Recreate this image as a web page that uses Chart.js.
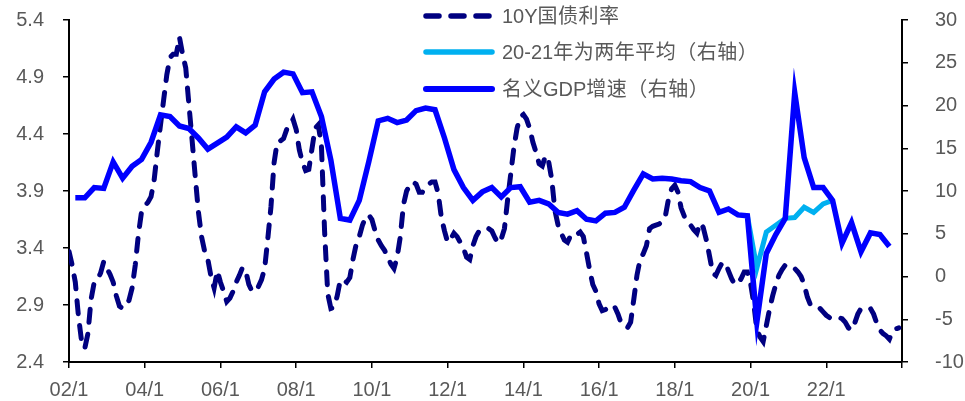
<!DOCTYPE html>
<html>
<head>
<meta charset="utf-8">
<script src="https://cdn.jsdelivr.net/npm/chart.js@4.4.0/dist/chart.umd.min.js"></script>
<style>
  html, body { margin: 0; padding: 0; background: #fff; }
  #wrap { width: 965px; height: 401px; }
</style>
</head>
<body>
<div id="wrap"><canvas id="chart" width="965" height="401"></canvas></div>
<script>
// x axis runs in months from 2002-01, labelled every two years
const xLabels = ['02/1', '04/1', '06/1', '08/1', '10/1', '12/1', '14/1', '16/1', '18/1', '20/1', '22/1'];
const leftTicks = [2.4, 2.9, 3.4, 3.9, 4.4, 4.9, 5.4];
const rightTicks = [-10, -5, 0, 5, 10, 15, 20, 25, 30];

// 10Y government bond yield, monthly 2002-01 .. 2023-12 (%)
const yield10y = [
  3.37, 3.25, 3.10, 2.80, 2.58, 2.52, 2.65, 2.95, 3.10, 3.12, 3.18, 3.28,
  3.22, 3.17, 3.10, 2.98, 2.89, 2.87, 2.90, 2.94, 3.05, 3.25, 3.52, 3.72,
  3.77, 3.80, 3.85, 4.00, 4.25, 4.48, 4.70, 4.92, 5.07, 5.10, 5.10, 5.25,
  5.10, 4.98, 4.66, 4.35, 4.03, 3.72, 3.50, 3.37, 3.30, 3.15, 3.05, 3.20,
  3.10, 3.02, 2.93, 2.96, 3.02, 3.10, 3.16, 3.23, 3.20, 3.08, 3.02, 3.02,
  3.06, 3.12, 3.22, 3.48, 3.76, 4.15, 4.33, 4.34, 4.36, 4.44, 4.48, 4.53,
  4.44, 4.26, 4.15, 4.08, 4.09, 4.27, 4.45, 4.48, 4.30, 3.55, 3.00, 2.87,
  2.88, 2.98, 3.12, 3.12, 3.10, 3.14, 3.30, 3.43, 3.50, 3.60, 3.67, 3.69,
  3.65, 3.55, 3.47, 3.42, 3.38, 3.32, 3.26, 3.22, 3.32, 3.50, 3.78, 3.90,
  3.95, 3.98, 3.96, 3.89, 3.89, 3.93, 3.96, 3.98, 3.98, 3.88, 3.67, 3.55,
  3.45, 3.48, 3.53, 3.50, 3.45, 3.40, 3.32, 3.30, 3.42, 3.50, 3.55, 3.57,
  3.57, 3.57, 3.55, 3.49, 3.44, 3.48, 3.57, 3.82, 4.05, 4.28, 4.45, 4.55,
  4.57, 4.53, 4.45, 4.33, 4.24, 4.14, 4.12, 4.21, 4.16, 4.00, 3.73, 3.60,
  3.53, 3.47, 3.45, 3.51, 3.53, 3.52, 3.54, 3.50, 3.36, 3.21, 3.08, 3.02,
  2.91, 2.85, 2.86, 2.88, 2.90, 2.88, 2.82, 2.74, 2.72, 2.70, 2.75, 2.95,
  3.16, 3.30, 3.35, 3.42, 3.57, 3.59, 3.60, 3.61, 3.63, 3.68, 3.83, 3.92,
  3.95, 3.89, 3.75, 3.68, 3.64, 3.60, 3.56, 3.53, 3.62, 3.58, 3.47, 3.33,
  3.18, 3.16, 3.22, 3.27, 3.27, 3.20, 3.13, 3.08, 3.09, 3.13, 3.19, 3.19,
  3.09, 2.92, 2.68, 2.62, 2.58, 2.72, 2.86, 2.98, 3.08, 3.16, 3.21, 3.25,
  3.23, 3.22, 3.22, 3.19, 3.15, 3.08, 2.97, 2.90, 2.90, 2.89, 2.87, 2.84,
  2.81, 2.79, 2.79, 2.80, 2.79, 2.78, 2.75, 2.70, 2.68, 2.74, 2.82, 2.87,
  2.87, 2.87, 2.87, 2.82, 2.74, 2.68, 2.65, 2.63, 2.60, 2.67, 2.69, 2.70
];

// nominal GDP growth, quarterly 2002Q1 .. 2023Q3 (%, right axis)
const gdpGrowth = [
  9.2, 9.2, 10.4, 10.3,
  13.4, 11.5, 12.9, 13.7,
  15.7, 18.9, 18.7, 17.6,
  17.3, 16.2, 14.9, 15.6,
  16.3, 17.5, 16.8, 17.7,
  21.6, 23.1, 23.9, 23.7,
  21.5, 21.6, 18.7, 13.6,
  6.8, 6.6, 8.9, 13.4,
  18.2, 18.5, 18.0, 18.3,
  19.4, 19.7, 19.5, 16.2,
  12.5, 10.4, 8.9, 9.9,
  10.4, 9.3, 10.4, 10.5,
  8.7, 8.9, 8.5, 7.5,
  7.3, 7.7, 6.7, 6.5,
  7.4, 7.5, 8.1, 10.1,
  12.0, 11.4, 11.5, 11.4,
  11.2, 11.1, 10.4, 10.0,
  7.5, 7.9, 7.2, 7.1,
  -5.3, 2.7, 4.9, 6.8,
  21.5, 13.9, 10.4, 10.4,
  8.9, 3.9, 6.3, 2.9,
  5.1, 4.9, 3.5
];

// two-year average growth for 2020-21, 2019Q4 .. 2022Q1
const avgGrowth = [7.1, 1.0, 5.2, 6.0, 6.8, 6.9, 8.1, 7.5, 8.5, 8.9];

const gdpStartMonth = 2;    // 2002-03
const avgStartMonth = 215;  // 2019-12

const yieldPts = yield10y.map((v, i) => ({ x: i, y: v }));
const gdpPts = gdpGrowth.map((v, i) => ({ x: gdpStartMonth + 3 * i, y: v }));
const avgPts = avgGrowth.map((v, i) => ({ x: avgStartMonth + 3 * i, y: v }));

const textColor = '#595959';
const latinFont = '"Liberation Sans", Arial, "Noto Sans CJK SC", sans-serif';

const legendItems = [
  { text: '10Y国债利率', color: '#000080', dash: [13, 12], width: 5.5, y: 16 },
  { text: '20-21年为两年平均（右轴）', color: '#00B0F0', dash: [], width: 5.5, y: 52 },
  { text: '名义GDP增速（右轴）', color: '#0000FF', dash: [], width: 6, y: 89 }
];

// legend sits inside the plot, top centre
const innerLegend = {
  id: 'innerLegend',
  afterDraw(chart) {
    const ctx = chart.ctx;
    ctx.save();
    legendItems.forEach(item => {
      ctx.beginPath();
      ctx.setLineDash(item.dash);
      ctx.lineCap = 'round';
      ctx.lineWidth = item.width;
      ctx.strokeStyle = item.color;
      ctx.moveTo(426, item.y);
      ctx.lineTo(492, item.y);
      ctx.stroke();
      ctx.setLineDash([]);
      ctx.fillStyle = textColor;
      ctx.font = '20px ' + latinFont;
      ctx.textBaseline = 'middle';
      ctx.textAlign = 'left';
      let x = 502;
      for (const ch of item.text) {
        ctx.fillText(ch, x, item.y + 1);
        x += ctx.measureText(ch).width + (/[\u3000-\uffff]/.test(ch) ? 0.5 : 0);
      }
    });
    ctx.restore();
  }
};

const axisGrid = { display: true, drawOnChartArea: false, drawTicks: true, tickLength: 6, color: '#000', lineWidth: 1.5 };
const axisBorder = { display: true, color: '#000', width: 2 };
const tickFont = { family: latinFont, size: 20 };

// fixed axis band sizes; drop the label padding the y scales ask for at top/bottom
const fixWidth = w => s => { s.width = w; s.paddingTop = 0; s.paddingBottom = 0; };

new Chart(document.getElementById('chart').getContext('2d'), {
  type: 'line',
  data: {
    datasets: [
      {
        label: '名义GDP增速（右轴）',
        data: gdpPts,
        yAxisID: 'yR',
        borderColor: '#0000FF',
        borderWidth: 5.5,
        pointRadius: 0,
        tension: 0,
        order: 0
      },
      {
        label: '20-21年为两年平均（右轴）',
        data: avgPts,
        yAxisID: 'yR',
        borderColor: '#00B0F0',
        borderWidth: 5,
        pointRadius: 0,
        tension: 0,
        order: 1
      },
      {
        label: '10Y国债利率',
        data: yieldPts,
        yAxisID: 'yL',
        borderColor: '#000080',
        borderWidth: 5,
        borderDash: [13, 12],
        borderCapStyle: 'round',
        pointRadius: 0,
        tension: 0,
        order: 2
      }
    ]
  },
  options: {
    responsive: false,
    animation: false,
    devicePixelRatio: 1,
    layout: { padding: { top: 20, left: 0, right: 0, bottom: 0 } },
    plugins: { legend: { display: false }, tooltip: { enabled: false } },
    scales: {
      x: {
        type: 'linear',
        min: 0,
        max: 264,
        grid: axisGrid,
        border: axisBorder,
        afterBuildTicks: s => { s.ticks = Array.from({ length: 12 }, (_, i) => ({ value: i * 24 })); },
        afterFit: s => { s.height = 39; },
        ticks: {
          autoSkip: false,
          maxRotation: 0,
          padding: 10,
          color: textColor,
          font: tickFont,
          callback: v => xLabels[v / 24] || ''
        }
      },
      yL: {
        position: 'left',
        min: 2.4,
        max: 5.4,
        grid: axisGrid,
        border: axisBorder,
        afterBuildTicks: s => { s.ticks = leftTicks.map(v => ({ value: v })); },
        afterFit: fixWidth(69),
        ticks: {
          padding: 19,
          color: textColor,
          font: tickFont,
          callback: v => v.toFixed(1)
        }
      },
      yR: {
        position: 'right',
        min: -10,
        max: 30,
        grid: axisGrid,
        border: axisBorder,
        afterBuildTicks: s => { s.ticks = rightTicks.map(v => ({ value: v })); },
        afterFit: fixWidth(63),
        ticks: {
          crossAlign: 'near',
          padding: 27,
          color: textColor,
          font: tickFont
        }
      }
    }
  },
  plugins: [innerLegend]
});
</script>
</body>
</html>
